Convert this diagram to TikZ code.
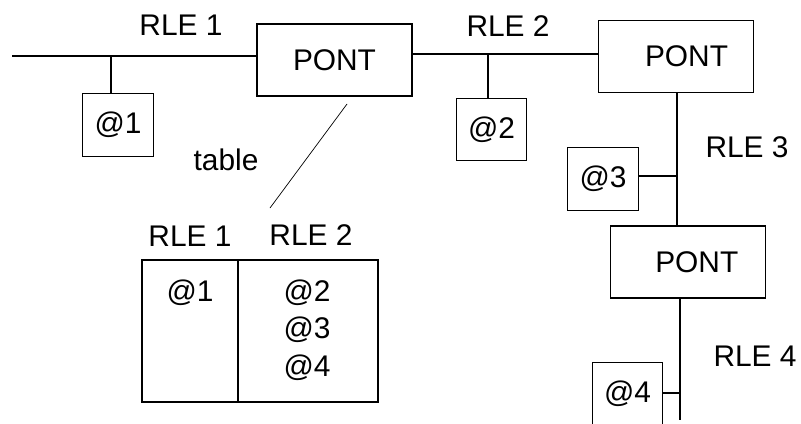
\documentclass[tikz,border=0pt]{standalone}
\usepackage{fontspec}
\setmainfont{Liberation Sans}
\usepackage{tikz}
\usetikzlibrary{calc,positioning}

\begin{document}
\begin{tikzpicture}[
  x=0.02cm, y=-0.02cm,
  pont/.style={rectangle, draw, line width=0.7pt, minimum width=3.1cm, minimum height=1.44cm, inner sep=0pt, font=\fontsize{17}{20}\selectfont},
  addr/.style={rectangle, draw, line width=0.7pt, minimum width=1.41cm, minimum height=1.25cm, inner sep=0pt, font=\fontsize{17}{20}\selectfont},
  lbl/.style={inner sep=0pt, font=\fontsize{17}{20}\selectfont},
  wire/.style={line width=0.6pt}
]
  \useasboundingbox (0,0) rectangle (801,423);
  \clip (0,0) rectangle (801,423);
  % bridges
  \node[pont] (pont1) at (334.5,60)  {PONT};
  \node[pont] (pont2) at (676,56.5)  {\hspace{12pt}PONT};
  \node[pont] (pont3) at (688,262)   {\hspace{10pt}PONT};
  % stations
  \node[addr] (a1) at (118,125)   {@1};
  \node[addr] (a2) at (491.5,129.5) {@2};
  \node[addr] (a3) at (603,179)   {@3};
  \node[addr] (a4) at (627.5,394) {@4};
  % RLE 1
  \coordinate (b1) at (12,56);
  \coordinate (t1) at (111,56);
  \draw[wire] (b1) -- (b1 -| pont1.west);
  \draw[wire] (t1) -- (t1 |- a1.north);
  \node[lbl] (rle1) at (181,25) {RLE 1};
  % RLE 2
  \coordinate (t2) at (488,54);
  \draw[wire] (t2 -| pont1.east) -- (t2 -| pont2.west);
  \draw[wire] (t2) -- (t2 |- a2.north);
  \node[lbl] (rle2) at (508,26) {RLE 2};
  % RLE 3
  \coordinate (t3) at (677,176);
  \draw[wire] (t3 |- pont2.south) -- (t3 |- pont3.north);
  \draw[wire] (t3) -- (t3 -| a3.east);
  \node[lbl] (rle3) at (747,147) {RLE 3};
  % RLE 4
  \coordinate (t4) at (680,393);
  \coordinate (e4) at (680,420);
  \draw[wire] (t4 |- pont3.south) -- (e4);
  \draw[wire] (t4) -- (t4 -| a4.east);
  \node[lbl] (rle4) at (755,356) {RLE 4};
  % bridge table
  \coordinate (tab1) at (347,104);
  \coordinate (tab2) at (270,208);
  \draw[line width=0.4pt] (tab1) -- (tab2);
  \node[lbl] (tlabel) at (226,160) {table};
  \draw[line width=0.7pt] (142,260) rectangle (378,402);
  \draw[line width=0.7pt] (238,260) -- (238,402);
  \node[lbl] (h1) at (190,236) {RLE 1};
  \node[lbl] (h2) at (311,235) {RLE 2};
  \node[lbl] (c1) at (190,293) {@1};
  \node[lbl] (c2) at (307,293) {@2};
  \node[lbl] (c3) at (307,330) {@3};
  \node[lbl] (c4) at (307,368) {@4};
\end{tikzpicture}
\end{document}
